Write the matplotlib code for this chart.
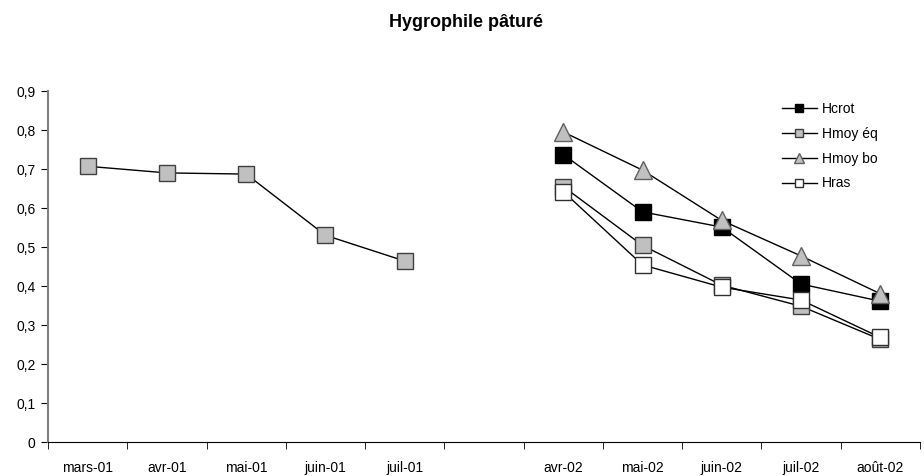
import numpy as np
import matplotlib.pyplot as plt

plt.rcParams['font.family'] = ['Liberation Sans', 'DejaVu Sans']

mois = ['mars-01', 'avr-01', 'mai-01', 'juin-01', 'juil-01', '',
        'avr-02', 'mai-02', 'juin-02', 'juil-02', 'août-02']
nan = np.nan
hcrot = [nan, nan, nan, nan, nan, nan, 0.737, 0.590, 0.551, 0.405, 0.361]
hmoy_eq = [0.707, 0.690, 0.687, 0.530, 0.464, nan, 0.655, 0.504, 0.402, 0.348, 0.263]
hmoy_bo = [nan, nan, nan, nan, nan, nan, 0.795, 0.697, 0.568, 0.477, 0.380]
hras = [nan, nan, nan, nan, nan, nan, 0.642, 0.454, 0.397, 0.364, 0.268]

fig = plt.figure(figsize=(9.24, 4.76), dpi=100)
ax = fig.add_axes([0.052, 0.0714, 0.9437, 0.7374])
x = np.arange(len(mois))

ax.plot(x, hcrot, color='black', lw=1, marker='s', ms=12, mfc='black', mec='black', label='Hcrot')
ax.plot(x, hmoy_eq, color='black', lw=1, marker='s', ms=12, mfc='#c0c0c0', mec='#404040', mew=1, label='Hmoy éq')
ax.plot(x, hmoy_bo, color='black', lw=1, marker='^', ms=13, mfc='#c0c0c0', mec='#606060', mew=1, label='Hmoy bo')
ax.plot(x, hras, color='black', lw=1, marker='s', ms=12, mfc='white', mec='#303030', mew=1, label='Hras')

ax.set_xlim(-0.5, len(mois) - 0.5)
ax.set_ylim(0, 0.9)
yt = np.arange(0, 0.91, 0.1)
ax.set_yticks(yt)
ax.set_yticklabels(['0'] + [f'{v:.1f}'.replace('.', ',') for v in yt[1:]])
ax.set_xticks(x)
ax.set_xticklabels(mois)
ax.set_xticks(np.arange(-0.5, len(mois), 1), minor=True)
ax.tick_params(axis='x', which='major', length=0, pad=14, labelsize=10)
ax.tick_params(axis='x', which='minor', length=5, direction='out')
ax.tick_params(axis='y', length=5, direction='out', labelsize=10, pad=4, color='black')

for s in ['top', 'right']:
    ax.spines[s].set_visible(False)
ax.spines['left'].set_color('#808080')
ax.spines['left'].set_linewidth(1.5)
ax.spines['bottom'].set_color('black')

ax.legend(loc='upper left', bbox_to_anchor=(0.8463, 0.786), bbox_transform=fig.transFigure,
          frameon=False, fontsize=10, borderpad=0, borderaxespad=0,
          handlelength=2.5, labelspacing=0.78, handletextpad=0.4, markerscale=0.5)

fig.text(0.504, 0.952, 'Hygrophile pâturé', ha='center', va='center', fontsize=13, fontweight='bold')

plt.savefig('out.png')
